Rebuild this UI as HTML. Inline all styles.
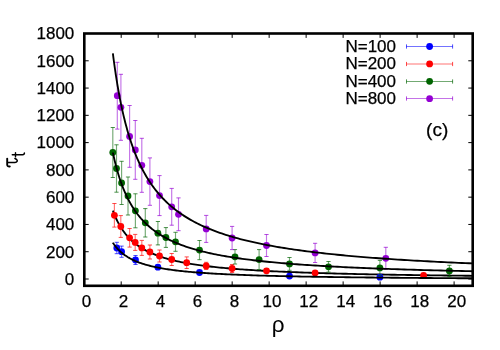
<!DOCTYPE html>
<html><head><meta charset="utf-8"><title>plot</title>
<style>
html,body{margin:0;padding:0;background:#fff;}
body{width:500px;height:350px;overflow:hidden;font-family:"Liberation Sans",sans-serif;}
.t{font-family:"Liberation Sans",sans-serif;font-size:17px;fill:#000;stroke:#000;stroke-width:0.25px;}
</style></head><body>
<svg width="500" height="350" viewBox="0 0 500 350" style="display:block;will-change:transform;transform:translateZ(0)">
<rect x="0" y="0" width="500" height="350" fill="#ffffff"/>
<g stroke="#000" stroke-width="1" fill="none">
<path d="M84.20 285.8 V281.40 M84.20 33.5 V37.90"/>
<path d="M121.19 285.8 V281.40 M121.19 33.5 V37.90"/>
<path d="M158.18 285.8 V281.40 M158.18 33.5 V37.90"/>
<path d="M195.17 285.8 V281.40 M195.17 33.5 V37.90"/>
<path d="M232.16 285.8 V281.40 M232.16 33.5 V37.90"/>
<path d="M269.15 285.8 V281.40 M269.15 33.5 V37.90"/>
<path d="M306.14 285.8 V281.40 M306.14 33.5 V37.90"/>
<path d="M343.13 285.8 V281.40 M343.13 33.5 V37.90"/>
<path d="M380.12 285.8 V281.40 M380.12 33.5 V37.90"/>
<path d="M417.11 285.8 V281.40 M417.11 33.5 V37.90"/>
<path d="M454.10 285.8 V281.40 M454.10 33.5 V37.90"/>
<path d="M84.3 279.00 H88.70 M472.7 279.00 H468.30"/>
<path d="M84.3 251.72 H88.70 M472.7 251.72 H468.30"/>
<path d="M84.3 224.45 H88.70 M472.7 224.45 H468.30"/>
<path d="M84.3 197.17 H88.70 M472.7 197.17 H468.30"/>
<path d="M84.3 169.90 H88.70 M472.7 169.90 H468.30"/>
<path d="M84.3 142.62 H88.70 M472.7 142.62 H468.30"/>
<path d="M84.3 115.34 H88.70 M472.7 115.34 H468.30"/>
<path d="M84.3 88.07 H88.70 M472.7 88.07 H468.30"/>
<path d="M84.3 60.79 H88.70 M472.7 60.79 H468.30"/>
<path d="M84.3 33.52 H88.70 M472.7 33.52 H468.30"/>
</g>
<g stroke="#000" stroke-width="1.85" fill="none" stroke-linejoin="round"><path d="M112.87 210.63 L112.88 210.66 L112.90 210.73 L112.95 210.85 L113.01 211.02 L113.09 211.24 L113.19 211.50 L113.31 211.81 L113.44 212.16 L113.60 212.56 L113.77 213.00 L113.96 213.47 L114.16 213.99 L114.39 214.54 L114.63 215.12 L114.89 215.74 L115.17 216.39 L115.47 217.07 L115.78 217.77 L116.11 218.50 L116.46 219.25 L116.83 220.01 L117.22 220.80 L117.62 221.60 L118.05 222.42 L118.49 223.25 L118.95 224.09 L119.42 224.93 L119.92 225.78 L120.43 226.64 L120.96 227.50 L121.51 228.37 L122.08 229.23 L122.66 230.09 L123.26 230.95 L123.88 231.81 L124.52 232.66 L125.18 233.51 L125.85 234.35 L126.55 235.18 L127.26 236.00 L127.98 236.82 L128.73 237.63 L129.50 238.42 L130.28 239.21 L131.08 239.99 L131.90 240.75 L132.73 241.50 L133.59 242.25 L134.46 242.97 L135.35 243.69 L136.26 244.40 L137.18 245.09 L138.13 245.77 L139.09 246.43 L140.07 247.09 L141.07 247.73 L142.09 248.36 L143.12 248.97 L144.17 249.58 L145.24 250.17 L146.33 250.75 L147.44 251.31 L148.56 251.87 L149.70 252.41 L150.86 252.94 L152.04 253.46 L153.24 253.97 L154.45 254.47 L155.68 254.95 L156.93 255.43 L158.20 255.89 L159.49 256.35 L160.79 256.79 L162.11 257.22 L163.45 257.65 L164.81 258.06 L166.19 258.47 L167.58 258.86 L168.99 259.25 L170.42 259.63 L171.87 260.00 L173.34 260.36 L174.82 260.71 L176.32 261.06 L177.84 261.39 L179.38 261.72 L180.94 262.04 L182.51 262.36 L184.10 262.66 L185.71 262.96 L187.34 263.26 L188.99 263.54 L190.65 263.82 L192.33 264.10 L194.03 264.37 L195.75 264.63 L197.48 264.88 L199.24 265.13 L201.01 265.38 L202.80 265.62 L204.61 265.85 L206.43 266.08 L208.28 266.31 L210.14 266.52 L212.02 266.74 L213.91 266.95 L215.83 267.15 L217.76 267.35 L219.72 267.55 L221.68 267.74 L223.67 267.93 L225.68 268.11 L227.70 268.29 L229.74 268.47 L231.80 268.64 L233.88 268.81 L235.98 268.98 L238.09 269.14 L240.22 269.30 L242.37 269.45 L244.54 269.61 L246.72 269.75 L248.93 269.90 L251.15 270.04 L253.39 270.18 L255.64 270.32 L257.92 270.46 L260.21 270.59 L262.52 270.72 L264.85 270.84 L267.20 270.97 L269.56 271.09 L271.95 271.21 L274.35 271.33 L276.77 271.44 L279.21 271.55 L281.66 271.66 L284.13 271.77 L286.62 271.88 L289.13 271.98 L291.66 272.08 L294.21 272.19 L296.77 272.28 L299.35 272.38 L301.95 272.48 L304.57 272.57 L307.20 272.66 L309.85 272.75 L312.53 272.84 L315.21 272.92 L317.92 273.01 L320.65 273.09 L323.39 273.17 L326.15 273.25 L328.93 273.33 L331.73 273.41 L334.54 273.49 L337.37 273.56 L340.22 273.64 L343.09 273.71 L345.98 273.78 L348.88 273.85 L351.81 273.92 L354.75 273.99 L357.71 274.05 L360.68 274.12 L363.68 274.18 L366.69 274.24 L369.72 274.31 L372.77 274.37 L375.84 274.43 L378.92 274.49 L382.02 274.54 L385.15 274.60 L388.28 274.66 L391.44 274.71 L394.62 274.77 L397.81 274.82 L401.02 274.87 L404.25 274.92 L407.49 274.98 L410.76 275.03 L414.04 275.08 L417.34 275.12 L420.66 275.17 L424.00 275.22 L427.35 275.26 L430.72 275.31 L434.11 275.36 L437.52 275.40 L440.95 275.44 L444.39 275.49 L447.85 275.53 L451.34 275.57 L454.83 275.61 L458.35 275.65 L461.88 275.69 L465.44 275.73 L469.01 275.77 L472.60 275.81"/></g>
<g stroke="#0000ff" stroke-opacity="0.55" stroke-width="1.15" fill="none">
<path d="M116.8 242.3 V253.7"/>
<path d="M121.6 246.1 V257.3"/>
<path d="M135.5 255.5 V264.5"/>
<path d="M157.9 265.2 V269.2"/>
<path d="M199.5 270.5 V274.5"/>
<path d="M289.5 274.1 V278.1"/>
<path d="M379.9 275.2 V279.2"/>
</g>
<g stroke="#0000ff" stroke-opacity="0.7" stroke-width="1" fill="none">
<path d="M114.7 242.3 H118.9 M114.7 253.7 H118.9"/>
<path d="M119.5 246.1 H123.7 M119.5 257.3 H123.7"/>
<path d="M133.4 255.5 H137.6 M133.4 264.5 H137.6"/>
<path d="M155.8 265.2 H160.0 M155.8 269.2 H160.0"/>
<path d="M197.4 270.5 H201.6 M197.4 274.5 H201.6"/>
<path d="M287.4 274.1 H291.6 M287.4 278.1 H291.6"/>
<path d="M377.8 275.2 H382.0 M377.8 279.2 H382.0"/>
</g>
<g fill="#0000ff" stroke="none">
<circle cx="116.8" cy="248.0" r="3.4"/>
<circle cx="121.6" cy="251.7" r="3.4"/>
<circle cx="135.5" cy="260.0" r="3.4"/>
<circle cx="157.9" cy="267.2" r="3.4"/>
<circle cx="199.5" cy="272.5" r="3.4"/>
<circle cx="289.5" cy="276.1" r="3.4"/>
<circle cx="379.9" cy="277.2" r="3.4"/>
</g>
<g stroke="#ff0000" stroke-opacity="0.55" stroke-width="1.15" fill="none">
<path d="M114.4 203.5 V227.1"/>
<path d="M120.8 215.6 V237.4"/>
<path d="M129.6 228.5 V247.1"/>
<path d="M135.2 234.4 V250.4"/>
<path d="M141.8 240.4 V255.4"/>
<path d="M149.9 245.0 V259.0"/>
<path d="M159.5 250.0 V262.0"/>
<path d="M171.7 253.5 V265.5"/>
<path d="M186.7 256.9 V268.5"/>
<path d="M206.2 262.3 V269.5"/>
<path d="M232.1 264.5 V272.5"/>
<path d="M266.5 268.8 V272.8"/>
<path d="M315.1 270.9 V274.9"/>
<path d="M423.6 273.4 V277.4"/>
</g>
<g stroke="#ff0000" stroke-opacity="0.7" stroke-width="1" fill="none">
<path d="M112.3 203.5 H116.5 M112.3 227.1 H116.5"/>
<path d="M118.7 215.6 H122.9 M118.7 237.4 H122.9"/>
<path d="M127.5 228.5 H131.7 M127.5 247.1 H131.7"/>
<path d="M133.1 234.4 H137.3 M133.1 250.4 H137.3"/>
<path d="M139.7 240.4 H143.9 M139.7 255.4 H143.9"/>
<path d="M147.8 245.0 H152.0 M147.8 259.0 H152.0"/>
<path d="M157.4 250.0 H161.6 M157.4 262.0 H161.6"/>
<path d="M169.6 253.5 H173.8 M169.6 265.5 H173.8"/>
<path d="M184.6 256.9 H188.8 M184.6 268.5 H188.8"/>
<path d="M204.1 262.3 H208.3 M204.1 269.5 H208.3"/>
<path d="M230.0 264.5 H234.2 M230.0 272.5 H234.2"/>
<path d="M264.4 268.8 H268.6 M264.4 272.8 H268.6"/>
<path d="M313.0 270.9 H317.2 M313.0 274.9 H317.2"/>
<path d="M421.5 273.4 H425.7 M421.5 277.4 H425.7"/>
</g>
<g fill="#ff0000" stroke="none">
<circle cx="114.4" cy="215.3" r="3.4"/>
<circle cx="120.8" cy="226.5" r="3.4"/>
<circle cx="129.6" cy="237.8" r="3.4"/>
<circle cx="135.2" cy="242.4" r="3.4"/>
<circle cx="141.8" cy="247.9" r="3.4"/>
<circle cx="149.9" cy="252.0" r="3.4"/>
<circle cx="159.5" cy="256.0" r="3.4"/>
<circle cx="171.7" cy="259.5" r="3.4"/>
<circle cx="186.7" cy="262.7" r="3.4"/>
<circle cx="206.2" cy="265.9" r="3.4"/>
<circle cx="232.1" cy="268.5" r="3.4"/>
<circle cx="266.5" cy="270.8" r="3.4"/>
<circle cx="315.1" cy="272.9" r="3.4"/>
<circle cx="423.6" cy="275.4" r="3.4"/>
</g>
<g stroke="#006400" stroke-opacity="0.55" stroke-width="1.15" fill="none">
<path d="M112.8 127.5 V177.5"/>
<path d="M116.5 144.8 V192.2"/>
<path d="M121.6 161.3 V204.5"/>
<path d="M128.0 177.0 V215.0"/>
<path d="M135.4 193.8 V227.8"/>
<path d="M145.3 208.6 V237.0"/>
<path d="M157.9 221.5 V244.9"/>
<path d="M165.9 227.6 V247.4"/>
<path d="M175.5 232.3 V251.3"/>
<path d="M199.5 240.5 V259.7"/>
<path d="M235.0 249.6 V264.0"/>
<path d="M259.1 249.6 V269.6"/>
<path d="M289.5 257.5 V270.3"/>
<path d="M328.5 261.5 V272.1"/>
<path d="M379.9 260.4 V275.4"/>
<path d="M449.4 265.3 V276.7"/>
</g>
<g stroke="#006400" stroke-opacity="0.7" stroke-width="1" fill="none">
<path d="M110.7 127.5 H114.9 M110.7 177.5 H114.9"/>
<path d="M114.4 144.8 H118.6 M114.4 192.2 H118.6"/>
<path d="M119.5 161.3 H123.7 M119.5 204.5 H123.7"/>
<path d="M125.9 177.0 H130.1 M125.9 215.0 H130.1"/>
<path d="M133.3 193.8 H137.5 M133.3 227.8 H137.5"/>
<path d="M143.2 208.6 H147.4 M143.2 237.0 H147.4"/>
<path d="M155.8 221.5 H160.0 M155.8 244.9 H160.0"/>
<path d="M163.8 227.6 H168.0 M163.8 247.4 H168.0"/>
<path d="M173.4 232.3 H177.6 M173.4 251.3 H177.6"/>
<path d="M197.4 240.5 H201.6 M197.4 259.7 H201.6"/>
<path d="M232.9 249.6 H237.1 M232.9 264.0 H237.1"/>
<path d="M257.0 249.6 H261.2 M257.0 269.6 H261.2"/>
<path d="M287.4 257.5 H291.6 M287.4 270.3 H291.6"/>
<path d="M326.4 261.5 H330.6 M326.4 272.1 H330.6"/>
<path d="M377.8 260.4 H382.0 M377.8 275.4 H382.0"/>
<path d="M447.3 265.3 H451.5 M447.3 276.7 H451.5"/>
</g>
<g fill="#006400" stroke="none">
<circle cx="112.8" cy="152.5" r="3.4"/>
<circle cx="116.5" cy="168.5" r="3.4"/>
<circle cx="121.6" cy="182.9" r="3.4"/>
<circle cx="128.0" cy="196.0" r="3.4"/>
<circle cx="135.4" cy="210.8" r="3.4"/>
<circle cx="145.3" cy="222.8" r="3.4"/>
<circle cx="157.9" cy="233.2" r="3.4"/>
<circle cx="165.9" cy="237.5" r="3.4"/>
<circle cx="175.5" cy="241.8" r="3.4"/>
<circle cx="199.5" cy="250.1" r="3.4"/>
<circle cx="235.0" cy="256.8" r="3.4"/>
<circle cx="259.1" cy="259.6" r="3.4"/>
<circle cx="289.5" cy="263.9" r="3.4"/>
<circle cx="328.5" cy="266.8" r="3.4"/>
<circle cx="379.9" cy="267.9" r="3.4"/>
<circle cx="449.4" cy="271.0" r="3.4"/>
</g>
<g stroke="#9400d3" stroke-opacity="0.55" stroke-width="1.15" fill="none">
<path d="M117.3 62.3 V129.1"/>
<path d="M120.9 74.3 V140.3"/>
<path d="M129.6 105.5 V167.3"/>
<path d="M135.3 120.5 V179.3"/>
<path d="M141.8 138.3 V192.3"/>
<path d="M149.9 157.9 V205.3"/>
<path d="M159.5 175.6 V215.6"/>
<path d="M171.7 188.4 V225.2"/>
<path d="M178.5 197.9 V230.7"/>
<path d="M206.2 215.4 V242.4"/>
<path d="M232.1 226.4 V249.6"/>
<path d="M266.5 234.5 V256.5"/>
<path d="M315.1 243.3 V262.5"/>
<path d="M385.8 247.3 V269.3"/>
</g>
<g stroke="#9400d3" stroke-opacity="0.7" stroke-width="1" fill="none">
<path d="M115.2 62.3 H119.4 M115.2 129.1 H119.4"/>
<path d="M118.8 74.3 H123.0 M118.8 140.3 H123.0"/>
<path d="M127.5 105.5 H131.7 M127.5 167.3 H131.7"/>
<path d="M133.2 120.5 H137.4 M133.2 179.3 H137.4"/>
<path d="M139.7 138.3 H143.9 M139.7 192.3 H143.9"/>
<path d="M147.8 157.9 H152.0 M147.8 205.3 H152.0"/>
<path d="M157.4 175.6 H161.6 M157.4 215.6 H161.6"/>
<path d="M169.6 188.4 H173.8 M169.6 225.2 H173.8"/>
<path d="M176.4 197.9 H180.6 M176.4 230.7 H180.6"/>
<path d="M204.1 215.4 H208.3 M204.1 242.4 H208.3"/>
<path d="M230.0 226.4 H234.2 M230.0 249.6 H234.2"/>
<path d="M264.4 234.5 H268.6 M264.4 256.5 H268.6"/>
<path d="M313.0 243.3 H317.2 M313.0 262.5 H317.2"/>
<path d="M383.7 247.3 H387.9 M383.7 269.3 H387.9"/>
</g>
<g fill="#9400d3" stroke="none">
<circle cx="117.3" cy="95.7" r="3.4"/>
<circle cx="120.9" cy="107.3" r="3.4"/>
<circle cx="129.6" cy="136.4" r="3.4"/>
<circle cx="135.3" cy="149.9" r="3.4"/>
<circle cx="141.8" cy="165.3" r="3.4"/>
<circle cx="149.9" cy="181.6" r="3.4"/>
<circle cx="159.5" cy="195.6" r="3.4"/>
<circle cx="171.7" cy="206.8" r="3.4"/>
<circle cx="178.5" cy="214.3" r="3.4"/>
<circle cx="206.2" cy="228.9" r="3.4"/>
<circle cx="232.1" cy="238.0" r="3.4"/>
<circle cx="266.5" cy="245.5" r="3.4"/>
<circle cx="315.1" cy="252.9" r="3.4"/>
<circle cx="385.8" cy="258.3" r="3.4"/>
</g>
<g stroke="#000" stroke-width="1.85" fill="none" stroke-linejoin="round">
<path d="M112.87 242.69 L112.88 242.71 L112.90 242.75 L112.95 242.82 L113.01 242.91 L113.09 243.03 L113.19 243.18 L113.31 243.35 L113.44 243.55 L113.60 243.77 L113.77 244.01 L113.96 244.28 L114.16 244.57 L114.39 244.87 L114.63 245.20 L114.89 245.54 L115.17 245.90 L115.47 246.28 L115.78 246.67 L116.11 247.08 L116.46 247.49 L116.83 247.92 L117.22 248.36 L117.62 248.80 L118.05 249.26 L118.49 249.72 L118.95 250.18 L119.42 250.65 L119.92 251.13 L120.43 251.60 L120.96 252.08 L121.51 252.56 L122.08 253.03 L122.66 253.51 L123.26 253.99 L123.88 254.46 L124.52 254.93 L125.18 255.40 L125.85 255.86 L126.55 256.32 L127.26 256.78 L127.98 257.23 L128.73 257.67 L129.50 258.11 L130.28 258.55 L131.08 258.97 L131.90 259.39 L132.73 259.81 L133.59 260.21 L134.46 260.61 L135.35 261.01 L136.26 261.39 L137.18 261.77 L138.13 262.15 L139.09 262.51 L140.07 262.87 L141.07 263.22 L142.09 263.56 L143.12 263.90 L144.17 264.23 L145.24 264.55 L146.33 264.87 L147.44 265.18 L148.56 265.48 L149.70 265.77 L150.86 266.06 L152.04 266.35 L153.24 266.62 L154.45 266.89 L155.68 267.16 L156.93 267.41 L158.20 267.67 L159.49 267.91 L160.79 268.15 L162.11 268.39 L163.45 268.62 L164.81 268.84 L166.19 269.06 L167.58 269.27 L168.99 269.48 L170.42 269.69 L171.87 269.89 L173.34 270.08 L174.82 270.27 L176.32 270.46 L177.84 270.64 L179.38 270.82 L180.94 270.99 L182.51 271.16 L184.10 271.32 L185.71 271.49 L187.34 271.64 L188.99 271.80 L190.65 271.95 L192.33 272.09 L194.03 272.24 L195.75 272.38 L197.48 272.52 L199.24 272.65 L201.01 272.78 L202.80 272.91 L204.61 273.03 L206.43 273.16 L208.28 273.28 L210.14 273.39 L212.02 273.51 L213.91 273.62 L215.83 273.73 L217.76 273.83 L219.72 273.94 L221.68 274.04 L223.67 274.14 L225.68 274.24 L227.70 274.34 L229.74 274.43 L231.80 274.52 L233.88 274.61 L235.98 274.70 L238.09 274.78 L240.22 274.87 L242.37 274.95 L244.54 275.03 L246.72 275.11 L248.93 275.19 L251.15 275.26 L253.39 275.34 L255.64 275.41 L257.92 275.48 L260.21 275.55 L262.52 275.62 L264.85 275.69 L267.20 275.75 L269.56 275.82 L271.95 275.88 L274.35 275.94 L276.77 276.00 L279.21 276.06 L281.66 276.12 L284.13 276.18 L286.62 276.23 L289.13 276.29 L291.66 276.34 L294.21 276.39 L296.77 276.44 L299.35 276.50 L301.95 276.55 L304.57 276.59 L307.20 276.64 L309.85 276.69 L312.53 276.74 L315.21 276.78 L317.92 276.83 L320.65 276.87 L323.39 276.91 L326.15 276.95 L328.93 277.00 L331.73 277.04 L334.54 277.08 L337.37 277.11 L340.22 277.15 L343.09 277.19 L345.98 277.23 L348.88 277.26 L351.81 277.30 L354.75 277.34 L357.71 277.37 L360.68 277.40 L363.68 277.44 L366.69 277.47 L369.72 277.50 L372.77 277.53 L375.84 277.57 L378.92 277.60 L382.02 277.63 L385.15 277.66 L388.28 277.69 L391.44 277.71 L394.62 277.74 L397.81 277.77 L401.02 277.80 L404.25 277.82 L407.49 277.85 L410.76 277.88 L414.04 277.90 L417.34 277.93 L420.66 277.95 L424.00 277.98 L427.35 278.00 L430.72 278.02 L434.11 278.05 L437.52 278.07 L440.95 278.09 L444.39 278.12 L447.85 278.14 L451.34 278.16 L454.83 278.18 L458.35 278.20 L461.88 278.22 L465.44 278.24 L469.01 278.26 L472.60 278.28"/>
<path d="M112.87 152.59 L112.88 152.63 L112.90 152.76 L112.95 152.97 L113.01 153.27 L113.09 153.65 L113.19 154.11 L113.31 154.65 L113.44 155.26 L113.60 155.96 L113.77 156.72 L113.96 157.56 L114.16 158.46 L114.39 159.43 L114.63 160.45 L114.89 161.54 L115.17 162.67 L115.47 163.86 L115.78 165.10 L116.11 166.38 L116.46 167.69 L116.83 169.05 L117.22 170.43 L117.62 171.84 L118.05 173.28 L118.49 174.75 L118.95 176.23 L119.42 177.72 L119.92 179.23 L120.43 180.75 L120.96 182.27 L121.51 183.80 L122.08 185.33 L122.66 186.87 L123.26 188.39 L123.88 189.92 L124.52 191.43 L125.18 192.94 L125.85 194.44 L126.55 195.93 L127.26 197.40 L127.98 198.86 L128.73 200.31 L129.50 201.73 L130.28 203.14 L131.08 204.54 L131.90 205.91 L132.73 207.26 L133.59 208.60 L134.46 209.91 L135.35 211.20 L136.26 212.47 L137.18 213.72 L138.13 214.95 L139.09 216.16 L140.07 217.34 L141.07 218.51 L142.09 219.65 L143.12 220.77 L144.17 221.86 L145.24 222.94 L146.33 224.00 L147.44 225.03 L148.56 226.04 L149.70 227.03 L150.86 228.00 L152.04 228.96 L153.24 229.89 L154.45 230.80 L155.68 231.69 L156.93 232.56 L158.20 233.42 L159.49 234.25 L160.79 235.07 L162.11 235.87 L163.45 236.65 L164.81 237.42 L166.19 238.17 L167.58 238.90 L168.99 239.62 L170.42 240.32 L171.87 241.00 L173.34 241.68 L174.82 242.33 L176.32 242.97 L177.84 243.60 L179.38 244.21 L180.94 244.81 L182.51 245.40 L184.10 245.97 L185.71 246.54 L187.34 247.09 L188.99 247.62 L190.65 248.15 L192.33 248.66 L194.03 249.17 L195.75 249.66 L197.48 250.14 L199.24 250.61 L201.01 251.07 L202.80 251.53 L204.61 251.97 L206.43 252.40 L208.28 252.82 L210.14 253.24 L212.02 253.64 L213.91 254.04 L215.83 254.43 L217.76 254.81 L219.72 255.18 L221.68 255.55 L223.67 255.91 L225.68 256.26 L227.70 256.60 L229.74 256.94 L231.80 257.27 L233.88 257.59 L235.98 257.91 L238.09 258.22 L240.22 258.52 L242.37 258.82 L244.54 259.11 L246.72 259.40 L248.93 259.68 L251.15 259.95 L253.39 260.22 L255.64 260.48 L257.92 260.74 L260.21 261.00 L262.52 261.25 L264.85 261.49 L267.20 261.73 L269.56 261.97 L271.95 262.20 L274.35 262.42 L276.77 262.65 L279.21 262.87 L281.66 263.08 L284.13 263.29 L286.62 263.50 L289.13 263.70 L291.66 263.90 L294.21 264.09 L296.77 264.29 L299.35 264.47 L301.95 264.66 L304.57 264.84 L307.20 265.02 L309.85 265.19 L312.53 265.37 L315.21 265.54 L317.92 265.70 L320.65 265.86 L323.39 266.03 L326.15 266.18 L328.93 266.34 L331.73 266.49 L334.54 266.64 L337.37 266.79 L340.22 266.93 L343.09 267.08 L345.98 267.22 L348.88 267.35 L351.81 267.49 L354.75 267.62 L357.71 267.75 L360.68 267.88 L363.68 268.01 L366.69 268.13 L369.72 268.26 L372.77 268.38 L375.84 268.49 L378.92 268.61 L382.02 268.73 L385.15 268.84 L388.28 268.95 L391.44 269.06 L394.62 269.17 L397.81 269.28 L401.02 269.38 L404.25 269.48 L407.49 269.58 L410.76 269.68 L414.04 269.78 L417.34 269.88 L420.66 269.97 L424.00 270.07 L427.35 270.16 L430.72 270.25 L434.11 270.34 L437.52 270.43 L440.95 270.52 L444.39 270.60 L447.85 270.69 L451.34 270.77 L454.83 270.85 L458.35 270.94 L461.88 271.02 L465.44 271.09 L469.01 271.17 L472.60 271.25"/>
<path d="M112.87 53.31 L112.88 53.39 L112.90 53.60 L112.95 53.96 L113.01 54.46 L113.09 55.10 L113.19 55.88 L113.31 56.79 L113.44 57.84 L113.60 59.01 L113.77 60.30 L113.96 61.72 L114.16 63.25 L114.39 64.88 L114.63 66.62 L114.89 68.46 L115.17 70.39 L115.47 72.41 L115.78 74.50 L116.11 76.68 L116.46 78.92 L116.83 81.22 L117.22 83.58 L117.62 85.99 L118.05 88.44 L118.49 90.94 L118.95 93.47 L119.42 96.03 L119.92 98.61 L120.43 101.21 L120.96 103.82 L121.51 106.45 L122.08 109.08 L122.66 111.71 L123.26 114.34 L123.88 116.96 L124.52 119.58 L125.18 122.18 L125.85 124.77 L126.55 127.34 L127.26 129.89 L127.98 132.42 L128.73 134.92 L129.50 137.40 L130.28 139.85 L131.08 142.27 L131.90 144.66 L132.73 147.03 L133.59 149.35 L134.46 151.65 L135.35 153.91 L136.26 156.13 L137.18 158.32 L138.13 160.48 L139.09 162.60 L140.07 164.68 L141.07 166.73 L142.09 168.74 L143.12 170.72 L144.17 172.65 L145.24 174.56 L146.33 176.42 L147.44 178.25 L148.56 180.05 L149.70 181.81 L150.86 183.54 L152.04 185.23 L153.24 186.89 L154.45 188.51 L155.68 190.11 L156.93 191.67 L158.20 193.20 L159.49 194.69 L160.79 196.16 L162.11 197.60 L163.45 199.00 L164.81 200.38 L166.19 201.73 L167.58 203.05 L168.99 204.34 L170.42 205.61 L171.87 206.84 L173.34 208.06 L174.82 209.25 L176.32 210.41 L177.84 211.55 L179.38 212.66 L180.94 213.75 L182.51 214.82 L184.10 215.87 L185.71 216.89 L187.34 217.89 L188.99 218.88 L190.65 219.84 L192.33 220.78 L194.03 221.70 L195.75 222.61 L197.48 223.49 L199.24 224.36 L201.01 225.21 L202.80 226.04 L204.61 226.85 L206.43 227.65 L208.28 228.43 L210.14 229.20 L212.02 229.95 L213.91 230.69 L215.83 231.41 L217.76 232.11 L219.72 232.81 L221.68 233.48 L223.67 234.15 L225.68 234.80 L227.70 235.44 L229.74 236.07 L231.80 236.68 L233.88 237.29 L235.98 237.88 L238.09 238.46 L240.22 239.03 L242.37 239.58 L244.54 240.13 L246.72 240.67 L248.93 241.20 L251.15 241.71 L253.39 242.22 L255.64 242.72 L257.92 243.21 L260.21 243.69 L262.52 244.16 L264.85 244.62 L267.20 245.07 L269.56 245.52 L271.95 245.96 L274.35 246.39 L276.77 246.81 L279.21 247.22 L281.66 247.63 L284.13 248.03 L286.62 248.42 L289.13 248.81 L291.66 249.19 L294.21 249.56 L296.77 249.92 L299.35 250.28 L301.95 250.64 L304.57 250.99 L307.20 251.33 L309.85 251.66 L312.53 251.99 L315.21 252.32 L317.92 252.64 L320.65 252.95 L323.39 253.26 L326.15 253.56 L328.93 253.86 L331.73 254.15 L334.54 254.44 L337.37 254.73 L340.22 255.01 L343.09 255.28 L345.98 255.55 L348.88 255.82 L351.81 256.08 L354.75 256.34 L357.71 256.59 L360.68 256.84 L363.68 257.09 L366.69 257.33 L369.72 257.57 L372.77 257.80 L375.84 258.03 L378.92 258.26 L382.02 258.49 L385.15 258.71 L388.28 258.92 L391.44 259.14 L394.62 259.35 L397.81 259.56 L401.02 259.76 L404.25 259.96 L407.49 260.16 L410.76 260.36 L414.04 260.55 L417.34 260.74 L420.66 260.93 L424.00 261.11 L427.35 261.29 L430.72 261.47 L434.11 261.65 L437.52 261.82 L440.95 262.00 L444.39 262.17 L447.85 262.33 L451.34 262.50 L454.83 262.66 L458.35 262.82 L461.88 262.98 L465.44 263.13 L469.01 263.29 L472.60 263.44"/>
</g>
<rect x="84.3" y="33.5" width="388.40" height="252.30" fill="none" stroke="#000" stroke-width="2.6"/>
<path d="M406.5 46.5 H452.7" stroke="#0000ff" stroke-opacity="0.55" stroke-width="1" fill="none"/>
<path d="M406.5 44.4 V48.6 M452.6 44.4 V48.6" stroke="#0000ff" stroke-opacity="0.7" stroke-width="1" fill="none"/>
<circle cx="429.6" cy="46.5" r="3.4" fill="#0000ff"/>
<text x="396.0" y="52.0" text-anchor="end" class="t">N=100</text>
<path d="M406.5 64.0 H452.7" stroke="#ff0000" stroke-opacity="0.55" stroke-width="1" fill="none"/>
<path d="M406.5 61.9 V66.1 M452.6 61.9 V66.1" stroke="#ff0000" stroke-opacity="0.7" stroke-width="1" fill="none"/>
<circle cx="429.6" cy="63.9" r="3.4" fill="#ff0000"/>
<text x="396.0" y="69.4" text-anchor="end" class="t">N=200</text>
<path d="M406.5 81.5 H452.7" stroke="#006400" stroke-opacity="0.55" stroke-width="1" fill="none"/>
<path d="M406.5 79.4 V83.6 M452.6 79.4 V83.6" stroke="#006400" stroke-opacity="0.7" stroke-width="1" fill="none"/>
<circle cx="429.6" cy="81.3" r="3.4" fill="#006400"/>
<text x="396.0" y="86.8" text-anchor="end" class="t">N=400</text>
<path d="M406.5 98.5 H452.7" stroke="#9400d3" stroke-opacity="0.55" stroke-width="1" fill="none"/>
<path d="M406.5 96.4 V100.6 M452.6 96.4 V100.6" stroke="#9400d3" stroke-opacity="0.7" stroke-width="1" fill="none"/>
<circle cx="429.6" cy="98.7" r="3.4" fill="#9400d3"/>
<text x="396.0" y="104.2" text-anchor="end" class="t">N=800</text>
<text x="86.4" y="307.3" text-anchor="middle" class="t">0</text>
<text x="123.4" y="307.3" text-anchor="middle" class="t">2</text>
<text x="160.4" y="307.3" text-anchor="middle" class="t">4</text>
<text x="197.4" y="307.3" text-anchor="middle" class="t">6</text>
<text x="234.4" y="307.3" text-anchor="middle" class="t">8</text>
<text x="271.9" y="307.3" text-anchor="middle" class="t">10</text>
<text x="308.8" y="307.3" text-anchor="middle" class="t">12</text>
<text x="345.8" y="307.3" text-anchor="middle" class="t">14</text>
<text x="382.8" y="307.3" text-anchor="middle" class="t">16</text>
<text x="419.8" y="307.3" text-anchor="middle" class="t">18</text>
<text x="456.8" y="307.3" text-anchor="middle" class="t">20</text>
<text x="74.3" y="284.8" text-anchor="end" class="t">0</text>
<text x="74.3" y="257.5" text-anchor="end" class="t">200</text>
<text x="74.3" y="230.2" text-anchor="end" class="t">400</text>
<text x="74.3" y="203.0" text-anchor="end" class="t">600</text>
<text x="74.3" y="175.7" text-anchor="end" class="t">800</text>
<text x="74.3" y="148.4" text-anchor="end" class="t">1000</text>
<text x="74.3" y="121.1" text-anchor="end" class="t">1200</text>
<text x="74.3" y="93.9" text-anchor="end" class="t">1400</text>
<text x="74.3" y="66.6" text-anchor="end" class="t">1600</text>
<text x="74.3" y="39.3" text-anchor="end" class="t">1800</text>
<text x="437.2" y="135.9" text-anchor="middle" style="font-family:'Liberation Sans',sans-serif;font-size:19px" fill="#000" stroke="#000" stroke-width="0.25">(c)</text>
<text x="278.2" y="332.1" text-anchor="middle" style="font-family:'Liberation Sans',sans-serif;font-size:22.5px" fill="#000">ρ</text>
<g fill="none" stroke="#000" stroke-linecap="round" stroke-linejoin="round"><path d="M9.8 166.5 C8.4 166.7 7.2 166.2 7.2 164.8 L7.2 158.6" stroke-width="1.9"/><path d="M7.6 162.4 L15.0 162.4 C17.2 162.4 17.8 160.7 16.8 159.7 C16.2 159.1 15.5 158.7 14.9 158.5" stroke-width="1.5"/><path d="M12.3 154.7 L22.6 154.7 C24.0 154.7 24.4 154.0 24.4 153.0" stroke-width="1.5"/><path d="M15.5 152.7 L15.5 156.9" stroke-width="1.4"/></g>
</svg>
</body></html>
